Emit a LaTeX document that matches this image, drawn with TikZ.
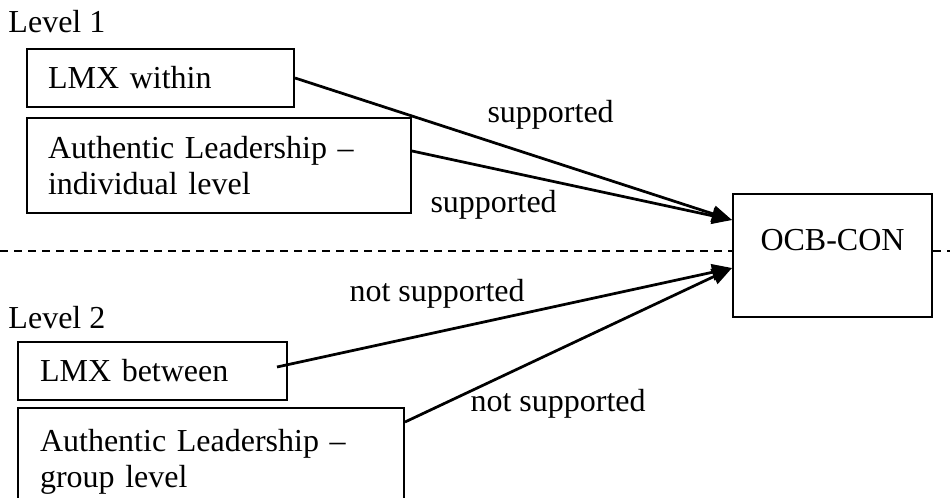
\documentclass[tikz,border=0pt]{standalone}
\usepackage{fontspec}
\setmainfont{Liberation Serif}
\usepackage{tikz}
\usetikzlibrary{positioning, calc, arrows.meta}

\begin{document}
\begin{tikzpicture}[x=0.4pt, y=-0.4pt,
	every node/.style={font=\fontsize{12.8pt}{14.4pt}\selectfont, inner sep=0pt},
	varbox/.style={draw, line width=0.8pt, anchor=north west, align=left, inner xsep=8.4pt},
	effect/.style={line width=1.1pt, -{Triangle[length=8pt, width=6.5pt]}},
	sepline/.style={line width=0.6pt, dash pattern=on 3.2pt off 2.4pt}]
	\clip (0,0) rectangle (950,498);

	% level 1
	\node [anchor=base west] (lvl1) at (8,33) {Level 1};
	\node [varbox, text width=90pt, minimum height=23.2pt] (lmxw) at (26,48) {LMX within};
	\node [varbox, text width=136.8pt, minimum height=38pt] (ali) at (26,117) {Authentic Leadership --\\individual level};

	% level 2
	\node [anchor=base west] (lvl2) at (8,328) {Level 2};
	\node [varbox, inner xsep=8.8pt, text width=90pt, minimum height=23.2pt] (lmxb) at (17,341) {LMX between};
	\node [varbox, inner xsep=8.8pt, text width=136.8pt, minimum height=43.2pt] (alg) at (17,407) {Authentic Leadership --\\group level};

	% outcome
	\node [draw, line width=0.8pt, anchor=north west, minimum width=79.6pt, text height=22.8pt, text depth=26.4pt] (ocb) at (732,193) {OCB-CON};

	\coordinate (sepL) at (0,251);
	\coordinate (sepR) at (950,251);
	\draw [sepline] (sepL) -- (sepL -| ocb.west);
	\draw [sepline] (ocb.east |- sepR) -- (sepR);

	\draw [effect] (lmxw.east) -- ([yshift=14.2pt]ocb.west);
	\draw [effect] ([yshift=5.8pt]ali.east) -- ([yshift=14.2pt]ocb.west);
	\draw [effect] ([xshift=-4.4pt, yshift=1.6pt]lmxb.east) -- ([yshift=-5pt]ocb.west);
	\draw [effect] ([yshift=-6pt]alg.north east) -- ([yshift=-5pt]ocb.west);

	\node [anchor=base west] (sup1) at (487,123) {supported};
	\node [anchor=base west] (sup2) at (430,213) {supported};
	\node [anchor=base west] (nsup1) at (349,302) {not supported};
	\node [anchor=base west] (nsup2) at (470,411) {not supported};
\end{tikzpicture}
\end{document}
